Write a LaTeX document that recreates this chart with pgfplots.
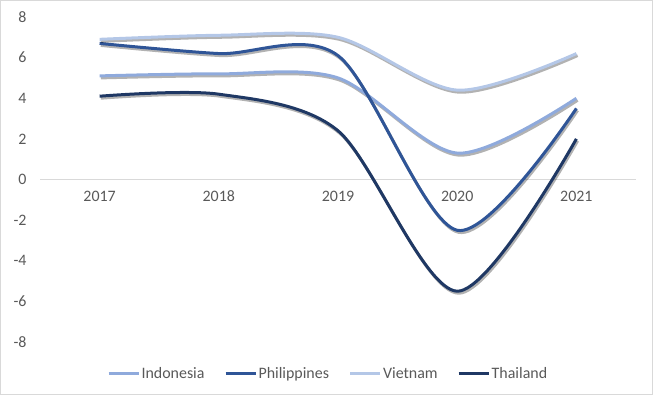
\documentclass[border=0pt]{standalone}
\usepackage{pgfplots}
\pgfplotsset{compat=1.18}
\usepackage{fontspec}
\setmainfont{Carlito}
\definecolor{indo}{HTML}{8FAADC}
\definecolor{phil}{HTML}{2F5597}
\definecolor{viet}{HTML}{B4C7E7}
\definecolor{thai}{HTML}{1F3864}
\definecolor{txtgray}{HTML}{595959}
\definecolor{zerogray}{HTML}{D9D9D9}
\definecolor{bordergray}{HTML}{D9D9D9}
\pgfplotsset{
  serie/.style={line width=3bp, smooth, tension=0.5},
  shadow/.style={line width=3bp, smooth, tension=0.5, draw=black, opacity=0.3, xshift=1.2bp, yshift=-2bp, forget plot},
}
\begin{document}
\begin{tikzpicture}
\useasboundingbox (0,0) rectangle (653bp,395bp);
\draw[color=bordergray, line width=0.75bp] (0.5bp,0.5bp) rectangle (652.5bp,394.5bp);
\begin{axis}[
  at={(40bp,53bp)}, anchor=south west,
  scale only axis, width=596bp, height=325bp,
  xmin=-0.5, xmax=4.5, ymin=-8, ymax=8,
  axis x line=middle, axis y line=left,
  x axis line style={draw=zerogray, line width=0.75bp, -},
  y axis line style={draw=none},
  xtick={0,1,2,3,4}, xticklabels={2017,2018,2019,2020,2021},
  ytick={-8,-6,-4,-2,0,2,4,6,8},
  major tick length=0,
  /pgf/number format/assume math mode=true,
  tick label style={font=\fontsize{16}{18}\selectfont, text=txtgray},
  yticklabel style={xshift=-10bp},
  xticklabel style={yshift=-8bp},
  clip=false,
  legend columns=4,
  legend style={draw=none, at={(0.483,-0.097)}, anchor=center,
    font=\fontsize{16}{18}\selectfont, text=txtgray,
    nodes={inner sep=1.5bp},
    /tikz/every even column/.append style={column sep=18bp}},
  legend image code/.code={\draw[#1] (0bp,0bp) -- (30bp,0bp);},
]
\addplot[shadow] coordinates {(0,5.1) (1,5.2) (2,5.0) (3,1.3) (4,4.0)};
\addplot[serie, indo] coordinates {(0,5.1) (1,5.2) (2,5.0) (3,1.3) (4,4.0)};
\addlegendentry{Indonesia}
\addplot[shadow] coordinates {(0,6.7) (1,6.2) (2,6.1) (3,-2.5) (4,3.5)};
\addplot[serie, phil] coordinates {(0,6.7) (1,6.2) (2,6.1) (3,-2.5) (4,3.5)};
\addlegendentry{Philippines}
\addplot[shadow] coordinates {(0,6.9) (1,7.1) (2,7.0) (3,4.4) (4,6.2)};
\addplot[serie, viet] coordinates {(0,6.9) (1,7.1) (2,7.0) (3,4.4) (4,6.2)};
\addlegendentry{Vietnam}
\addplot[shadow] coordinates {(0,4.1) (1,4.2) (2,2.4) (3,-5.5) (4,2.0)};
\addplot[serie, thai] coordinates {(0,4.1) (1,4.2) (2,2.4) (3,-5.5) (4,2.0)};
\addlegendentry{Thailand}
\end{axis}
\end{tikzpicture}
\end{document}
